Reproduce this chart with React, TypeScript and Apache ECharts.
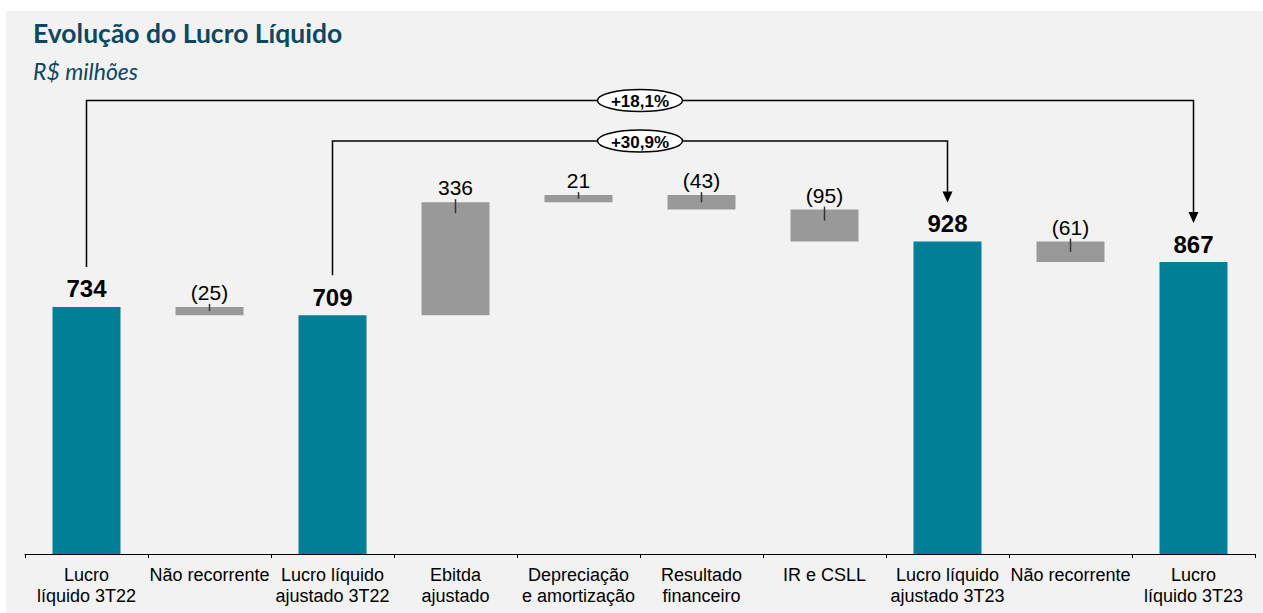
import React, { useEffect, useRef } from "react";
import * as echarts from "echarts";

const categories = [
  "Lucro\nlíquido 3T22",
  "Não recorrente",
  "Lucro líquido\najustado 3T22",
  "Ebitda\najustado",
  "Depreciação\ne amortização",
  "Resultado\nfinanceiro",
  "IR e CSLL",
  "Lucro líquido\najustado 3T23",
  "Não recorrente",
  "Lucro\nlíquido 3T23",
];
const amounts = [734, -25, 709, 336, 21, -43, -95, 928, -61, 867];
const isTotal = [true, false, true, false, false, false, false, true, false, true];
const valueLabels = ["734", "(25)", "709", "336", "21", "(43)", "(95)", "928", "(61)", "867"];
const growthLabels = ["+18,1%", "+30,9%"];
const growthPairs = [
  [0, 9],
  [2, 7],
];
const bracketY = [100.5, 141];

const TEAL = "#007f96";
const GRAY = "#999999";
const FONT = "'Liberation Sans', Arial, sans-serif";

export default function App() {
  const ref = useRef<HTMLDivElement>(null);

  useEffect(() => {
    if (!ref.current) return;
    const chart = echarts.init(ref.current, undefined, { renderer: "svg" });

    const base: number[] = [];
    const size: number[] = [];
    const top: number[] = [];
    let running = 0;
    amounts.forEach((v, i) => {
      if (isTotal[i]) {
        base.push(0);
        size.push(v);
        top.push(v);
        running = v;
      } else {
        const next = running + v;
        base.push(Math.min(running, next));
        size.push(Math.abs(v));
        top.push(Math.max(running, next));
        running = next;
      }
    });

    const tickData = amounts
      .map((_, i) => [i, top[i], size[i]])
      .filter((_, i) => !isTotal[i]);

    const option: any = {
      animation: false,
      backgroundColor: "#ffffff",
      graphic: [
        {
          type: "rect",
          z: -10,
          shape: { x: 6, y: 11, width: 1257, height: 602 },
          style: { fill: "#f2f2f2" },
        },
        {
          type: "text",
          x: 33,
          y: 33,
          style: {
            text: "Evolução do Lucro Líquido",
            font: "bold 26.5px Lato, 'Noto Sans', sans-serif",
            fill: "#0e4761",
            verticalAlign: "middle",
            align: "left",
          },
        },
        {
          type: "text",
          x: 33,
          y: 71,
          style: {
            text: "R$ milhões",
            font: "italic 23px Lato, 'Noto Sans', sans-serif",
            fill: "#0e4761",
            verticalAlign: "middle",
            align: "left",
          },
        },
      ],
      grid: { left: 25, right: 8, top: 150, bottom: 59 },
      xAxis: {
        type: "category",
        data: categories,
        axisLine: { show: true, lineStyle: { color: "#000", width: 1 } },
        axisTick: { show: true, length: 4, lineStyle: { color: "#000" } },
        axisLabel: {
          interval: 0,
          margin: 10,
          fontSize: 18,
          lineHeight: 21,
          color: "#000",
          fontFamily: FONT,
        },
      },
      yAxis: { type: "value", min: 0, max: 1200, show: false, splitLine: { show: false } },
      series: [
        {
          type: "bar",
          stack: "w",
          silent: true,
          barWidth: 68,
          itemStyle: { color: "transparent" },
          data: base,
        },
        {
          type: "bar",
          stack: "w",
          barWidth: 68,
          data: size.map((v, i) => ({
            value: v,
            itemStyle: { color: isTotal[i] ? TEAL : GRAY },
            label: isTotal[i]
              ? {
                  show: true,
                  position: "top",
                  distance: 6,
                  fontSize: 24,
                  fontWeight: "bold",
                  color: "#000",
                  fontFamily: FONT,
                  formatter: () => valueLabels[i],
                }
              : {
                  show: true,
                  position: "top",
                  distance: 4,
                  fontSize: 21,
                  color: "#000",
                  fontFamily: FONT,
                  formatter: () => valueLabels[i],
                },
          })),
        },
        {
          type: "custom",
          z: 5,
          silent: true,
          encode: { x: 0, y: 1 },
          data: tickData,
          renderItem: (_params: any, api: any) => {
            const p = api.coord([api.value(0), api.value(1)]);
            const b = api.coord([api.value(0), api.value(1) - api.value(2)]);
            const h = b[1] - p[1];
            return {
              type: "line",
              shape: { x1: p[0], y1: p[1] - 3, x2: p[0], y2: p[1] + Math.min(11, h / 2) },
              style: { stroke: "#333", lineWidth: 1.5 },
            };
          },
        },
        {
          type: "custom",
          z: 6,
          silent: true,
          encode: { x: 0, y: 1 },
          data: [[0, 0]],
          renderItem: (_params: any, api: any) => {
            const children: any[] = [];
            growthPairs.forEach(([a, b], k) => {
              const pa = api.coord([a, top[a]]);
              const pb = api.coord([b, top[b]]);
              const yL = bracketY[k];
              const tipY = pb[1] - 39;
              children.push({
                type: "polyline",
                shape: {
                  points: [
                    [pa[0], pa[1] - 40],
                    [pa[0], yL],
                    [pb[0], yL],
                    [pb[0], tipY - 10],
                  ],
                },
                style: { stroke: "#000", lineWidth: 1.5, fill: null },
              });
              children.push({
                type: "polygon",
                shape: {
                  points: [
                    [pb[0] - 5, tipY - 11],
                    [pb[0] + 5, tipY - 11],
                    [pb[0], tipY],
                  ],
                },
                style: { fill: "#000" },
              });
              const c4 = api.coord([4, 0]);
              const c5 = api.coord([5, 0]);
              const cx = (c4[0] + c5[0]) / 2;
              children.push({
                type: "ellipse",
                shape: { cx, cy: yL, rx: 42.5, ry: 11 },
                style: { fill: "#ffffff", stroke: "#000", lineWidth: 1.5 },
              });
              children.push({
                type: "text",
                style: {
                  text: growthLabels[k],
                  x: cx,
                  y: yL + 1,
                  align: "center",
                  verticalAlign: "middle",
                  font: `bold 17px ${FONT}`,
                  fill: "#000",
                },
              });
            });
            return { type: "group", children };
          },
        },
      ],
    };

    chart.setOption(option);
    return () => chart.dispose();
  }, []);

  return (
    <div
      ref={ref}
      style={{ position: "fixed", left: 0, top: 0, width: 1263, height: 613 }}
    />
  );
}
